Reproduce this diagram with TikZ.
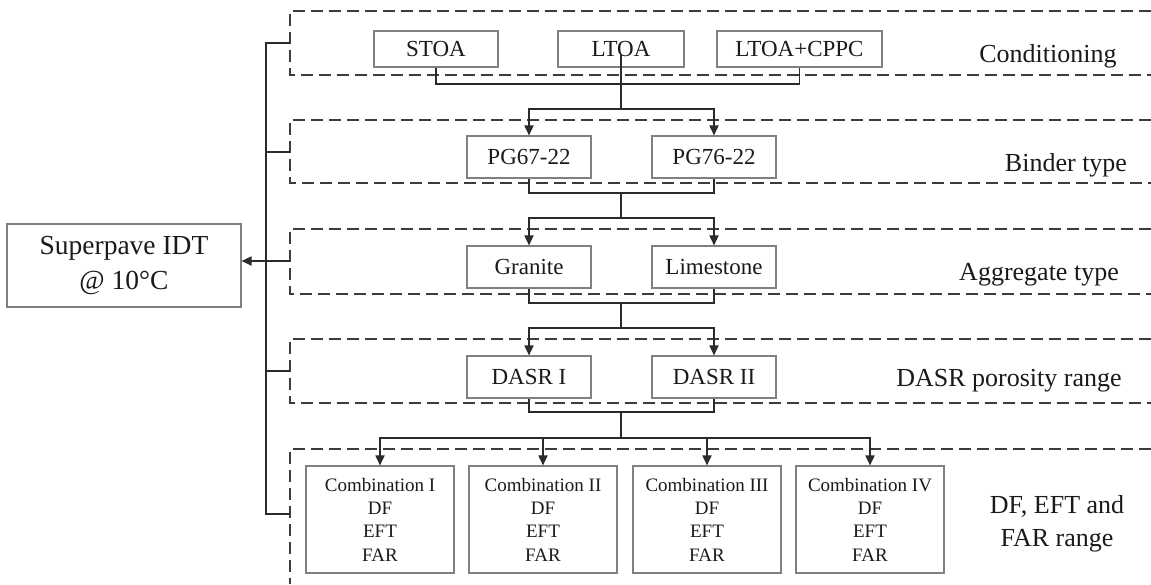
\documentclass[tikz,border=0pt]{standalone}
\usepackage{fontspec}
\setmainfont{Liberation Serif}
\usetikzlibrary{arrows.meta}
\definecolor{boxc}{HTML}{808080}
\definecolor{linec}{HTML}{2b2b2b}
\definecolor{dashc}{HTML}{3c3c3c}
\definecolor{txt}{HTML}{1a1a1a}
\begin{document}
\begin{tikzpicture}[x=1pt,y=-1pt,
  box/.style={draw=boxc, line width=1.1pt, inner sep=0pt, text=txt, font=\fontsize{23}{27}\selectfont},
  conn/.style={draw=linec, line width=1.7pt},
  arr/.style={conn, -{Triangle[length=10pt,width=9pt]}},
  frame/.style={draw=dashc, line width=1.8pt, dash pattern=on 12pt off 6pt},
  lbl/.style={text=txt, font=\fontsize{26}{33}\selectfont, anchor=base, inner sep=0pt},
  combo/.style={box, font=\fontsize{19}{23.3}\selectfont, align=center, minimum width=148pt, minimum height=107pt}
]
\useasboundingbox (0,0) rectangle (1151,584);
\fill[white] (0,0) rectangle (1151,584);

% dashed frames
\draw[frame] (1151,11) -- (290,11) -- (290,75) -- (1151,75);
\draw[frame] (1151,120) -- (290,120) -- (290,183) -- (1151,183);
\draw[frame] (1151,229) -- (290,229) -- (290,294) -- (1151,294);
\draw[frame] (1151,339) -- (290,339) -- (290,403) -- (1151,403);
\draw[frame] (1151,449) -- (290,449) -- (290,584);

% boxes
\node[box, minimum width=124pt, minimum height=36pt] (stoa) at (436,49) {STOA};
\node[box, minimum width=126pt, minimum height=36pt] (ltoa) at (621,49) {LTOA};
\node[box, minimum width=165pt, minimum height=36pt] (cppc) at (799.5,49) {LTOA+CPPC};

\node[box, minimum width=124pt, minimum height=42pt] (pg67) at (529,157) {PG67-22};
\node[box, minimum width=124pt, minimum height=42pt] (pg76) at (714,157) {PG76-22};

\node[box, minimum width=124pt, minimum height=42pt] (gran) at (529,267) {Granite};
\node[box, minimum width=124pt, minimum height=42pt] (lime) at (714,267) {Limestone};

\node[box, minimum width=124pt, minimum height=42pt] (dasra) at (529,377) {DASR I};
\node[box, minimum width=124pt, minimum height=42pt] (dasrb) at (714,377) {DASR II};

\node[combo] (c1) at (380,519.5) {Combination I\\DF\\EFT\\FAR};
\node[combo] (c2) at (543,519.5) {Combination II\\DF\\EFT\\FAR};
\node[combo] (c3) at (707,519.5) {Combination III\\DF\\EFT\\FAR};
\node[combo] (c4) at (870,519.5) {Combination IV\\DF\\EFT\\FAR};

\node[box, minimum width=234pt, minimum height=83pt, align=center,
      font=\fontsize{27.5}{35}\selectfont] (idt) at (124,265.5) {Superpave IDT\\@ 10°C};

% right labels
\node[lbl] (l1) at (1048,62) {Conditioning};
\node[lbl] (l2) at (1066,171) {Binder type};
\node[lbl] (l3) at (1039,280) {Aggregate type};
\node[lbl] (l4) at (1009,386) {DASR porosity range};
\node[lbl, anchor=center, align=center] (l5) at (1057,524) {DF, EFT and\\FAR range};

% junction coordinates
\coordinate (m1) at (621,84);
\coordinate (s1) at (621,109);
\coordinate (m2) at (621,193);
\coordinate (s2) at (621,218);
\coordinate (m3) at (621,303);
\coordinate (s3) at (621,328);
\coordinate (m4) at (621,412);
\coordinate (s4) at (621,438);

% stage 1
\draw[conn] (stoa.south) |- (m1) -| (cppc.south);
\draw[conn] ([yshift=-6pt]ltoa.center) -- (m1) -- (s1);
\draw[arr] (s1) -| (pg67.north);
\draw[arr] (s1) -| (pg76.north);
% stage 2
\draw[conn] (pg67.south) |- (m2) -| (pg76.south);
\draw[conn] (m2) -- (s2);
\draw[arr] (s2) -| (gran.north);
\draw[arr] (s2) -| (lime.north);
% stage 3
\draw[conn] (gran.south) |- (m3) -| (lime.south);
\draw[conn] (m3) -- (s3);
\draw[arr] (s3) -| (dasra.north);
\draw[arr] (s3) -| (dasrb.north);
% stage 4
\draw[conn] (dasra.south) |- (m4) -| (dasrb.south);
\draw[conn] (m4) -- (s4);
\draw[arr] (s4) -| (c1.north);
\draw[arr] (s4) -| (c2.north);
\draw[arr] (s4) -| (c3.north);
\draw[arr] (s4) -| (c4.north);

% left bracket
\coordinate (bx) at (266,0);
\coordinate (t1) at (290,43);
\coordinate (t2) at (290,152);
\coordinate (t3) at (290,261);
\coordinate (t4) at (290,371);
\coordinate (t5) at (290,514);
\draw[conn] (t1) -- (t1 -| bx) -- (t5 -| bx) -- (t5);
\draw[conn] (t2) -- (t2 -| bx);
\draw[conn] (t4) -- (t4 -| bx);
\draw[arr] (t3) -- (idt.east |- t3);
\end{tikzpicture}
\end{document}
